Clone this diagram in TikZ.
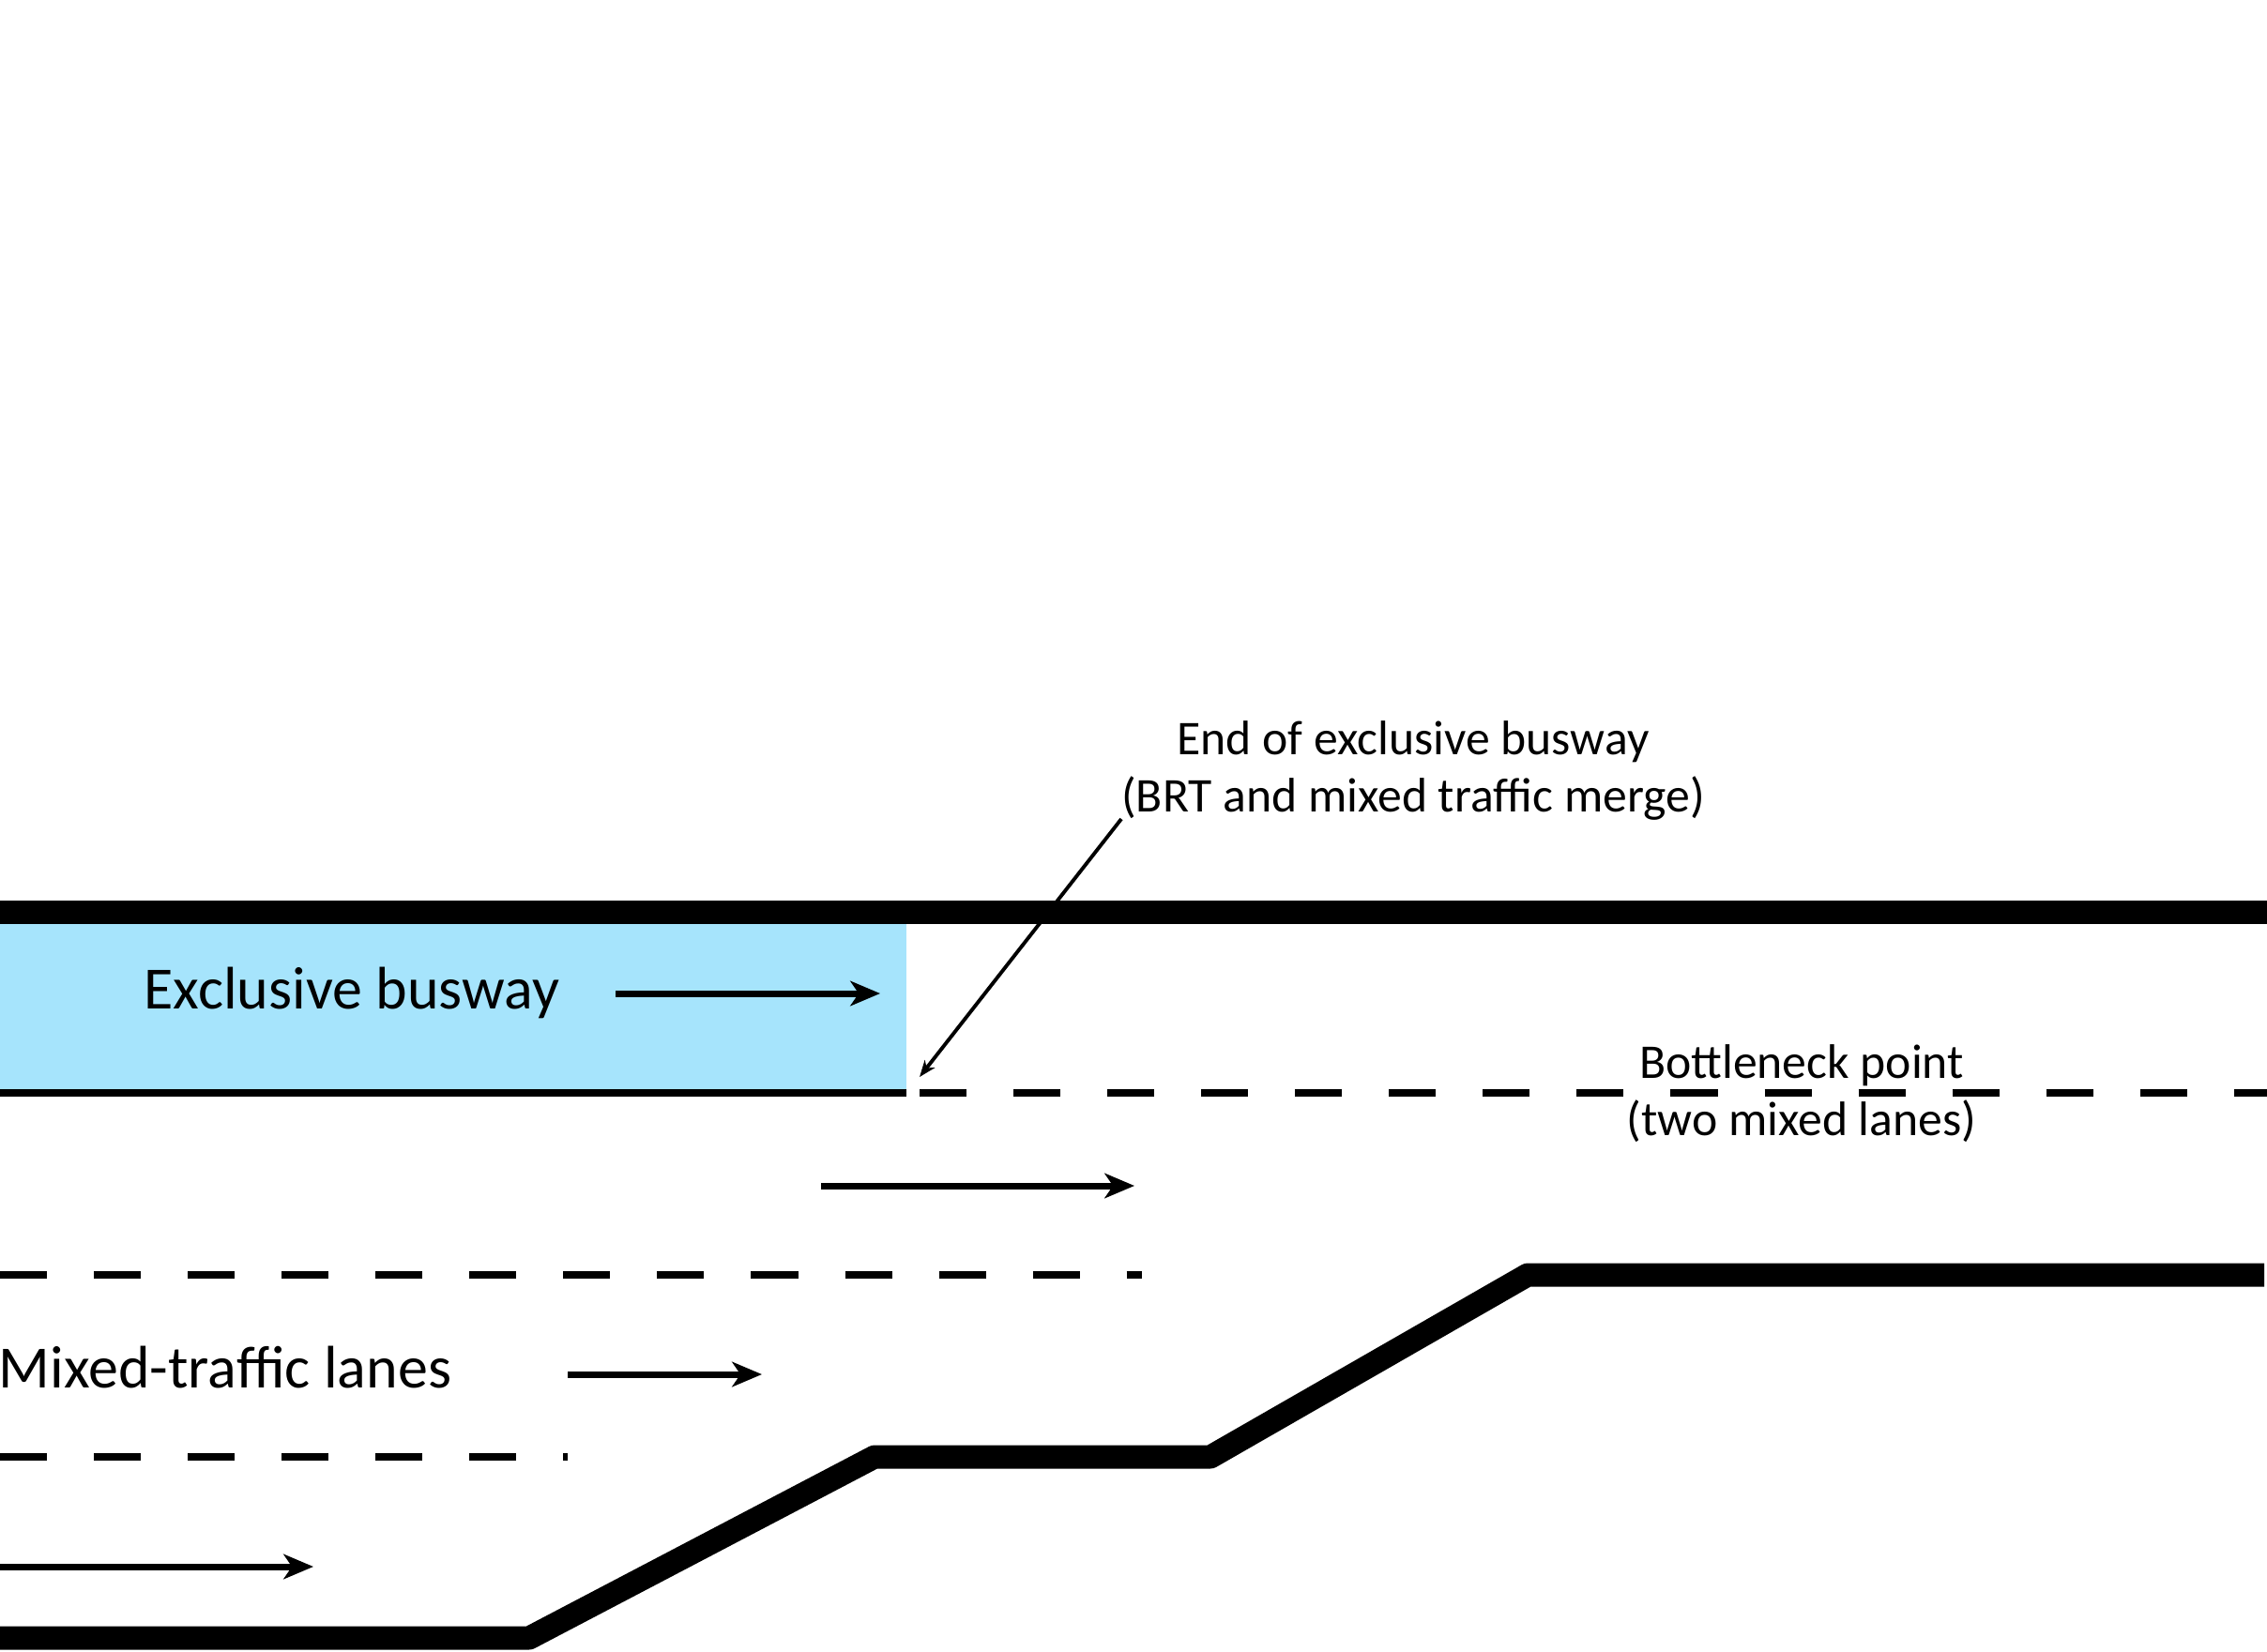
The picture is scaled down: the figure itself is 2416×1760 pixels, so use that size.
\documentclass[tikz,border=0pt]{standalone}
\usepackage{fontspec}
\setmainfont{Carlito}
\usepackage{xcolor}
\usepackage{tikz}
\usetikzlibrary{arrows.meta,positioning,calc}
\definecolor{buslane}{RGB}{166,228,252}
\tikzstyle{roadedge} = [line width=7.1pt, line join=round]
\tikzstyle{lanemark} = [line width=2.3pt, dash pattern=on 0.5cm off 0.5cm]
\tikzstyle{flow} = [line width=2pt, -{Stealth[length=9pt, width=7.5pt, inset=2.5pt]}]
\tikzstyle{pointer} = [line width=1.1pt, -{Stealth[length=5pt, width=3.8pt, inset=1.5pt]}]
\tikzstyle{biglabel} = [inner sep=0pt, anchor=base, font=\fontsize{18.2}{21}\selectfont]
\tikzstyle{smalllabel} = [inner sep=0pt, anchor=base, align=center, font=\fontsize{14.7}{17.07}\selectfont]

\begin{document}
\begin{tikzpicture}[x=0.01cm, y=-0.01cm]
	\useasboundingbox (0,0) rectangle (2416,1760);
	% busway and road
	\fill [buslane] (0,985) rectangle (966,1161);
	\draw [roadedge] (0,972) -- (2416,972);
	\draw [roadedge] (0,1746) -- (564,1746) -- (932,1553) -- (1290,1553) -- (1628,1359) -- (2413,1359);
	\draw [line width=2.3pt] (0,1165) -- (966,1165);
	\draw [lanemark] (980,1165) -- (2416,1165);
	\draw [lanemark] (0,1359) -- (1217,1359);
	\draw [lanemark] (0,1553) -- (605,1553);

	% direction of travel
	\foreach \xa/\xb/\y in {656/938/1059, 875/1209/1264, 605/812/1465, 0/334/1670}
		\draw [flow] (\xa,\y) -- (\xb,\y);

	\node (busway) [biglabel] at (375,1075) {Exclusive busway};
	\node (mixed) [biglabel] at (240,1479) {Mixed-traffic lanes};
	\node (endbus) [smalllabel] at (1506,865) {End of exclusive busway\\(BRT and mixed traffic merge)};
	\node (bottleneck) [smalllabel] at (1920,1210) {Bottleneck point\\(two mixed lanes)};

	\coordinate (tail) at (1195,873);
	\coordinate (busend) at (980,1148);
	\draw [pointer] (tail) -- (busend);
\end{tikzpicture}
\end{document}
